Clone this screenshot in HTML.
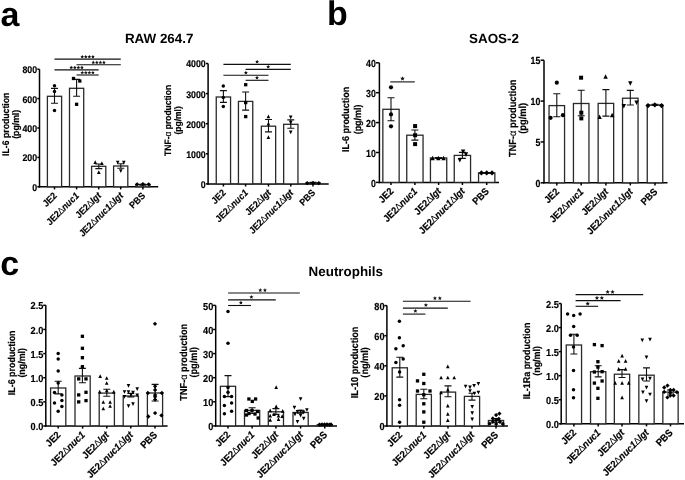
<!DOCTYPE html>
<html><head><meta charset="utf-8"><title>Figure</title>
<style>
html,body{margin:0;padding:0;background:#fff;overflow:hidden}
svg{display:block;will-change:transform}
text{text-rendering:geometricPrecision;font-family:"Liberation Sans",sans-serif;font-weight:bold;fill:#000;stroke:#000;stroke-width:0.18px}
.big,.ttl{stroke:none}
.ax{stroke:#000;stroke-width:1.5;fill:none}
.bar{stroke:#2a2a2a;stroke-width:1.3;fill:#fff}
.err{stroke:#111;stroke-width:1.1;fill:none}
.sig{stroke:#111;stroke-width:1.1}
.pt{fill:#000}
.tl{font-size:8.8px;text-anchor:end}
.yl{font-size:8.5px;text-anchor:middle}
.cat{font-size:8.8px;text-anchor:end}
.star{fill:#111}
.it{font-style:italic}
.dl{font-weight:normal;stroke:none}
.al{font-weight:normal;stroke-width:0.15px}
.big{font-size:34px}
.ttl{font-size:13.4px;text-anchor:middle}
</style></head><body>
<svg width="685" height="480" viewBox="0 0 685 480">
<text x="0.5" y="25.6" class="big">a</text>
<text x="327" y="25.2" class="big">b</text>
<text x="0.2" y="274.8" class="big">c</text>
<text x="159.2" y="42.7" class="ttl">RAW 264.7</text>
<text x="494" y="42.7" class="ttl">SAOS-2</text>
<text x="345.8" y="275.9" class="ttl">Neutrophils</text>
<line x1="39.5" y1="69.2" x2="39.5" y2="187.55" class="ax"/>
<line x1="37.3" y1="186.8" x2="39.5" y2="186.8" class="ax"/>
<text class="tl" style="font-size:9.68px" transform="translate(37.1 190.77) scale(0.9091 1)">0</text>
<line x1="37.3" y1="157.4" x2="39.5" y2="157.4" class="ax"/>
<text class="tl" style="font-size:9.68px" transform="translate(37.1 161.37) scale(0.9091 1)">200</text>
<line x1="37.3" y1="128" x2="39.5" y2="128" class="ax"/>
<text class="tl" style="font-size:9.68px" transform="translate(37.1 131.97) scale(0.9091 1)">400</text>
<line x1="37.3" y1="98.6" x2="39.5" y2="98.6" class="ax"/>
<text class="tl" style="font-size:9.68px" transform="translate(37.1 102.57) scale(0.9091 1)">600</text>
<line x1="37.3" y1="69.2" x2="39.5" y2="69.2" class="ax"/>
<text class="tl" style="font-size:9.68px" transform="translate(37.1 73.17) scale(0.9091 1)">800</text>
<line x1="38.75" y1="186.8" x2="158.2" y2="186.8" class="ax"/>
<rect x="47.4" y="96.3" width="14.2" height="90.5" class="bar"/>
<line x1="54.5" y1="186.8" x2="54.5" y2="189.4" class="ax"/>
<rect x="69.5" y="88.3" width="14.2" height="98.5" class="bar"/>
<line x1="76.6" y1="186.8" x2="76.6" y2="189.4" class="ax"/>
<rect x="91.6" y="166.3" width="14.2" height="20.5" class="bar"/>
<line x1="98.7" y1="186.8" x2="98.7" y2="189.4" class="ax"/>
<rect x="113.6" y="166" width="14.2" height="20.8" class="bar"/>
<line x1="120.7" y1="186.8" x2="120.7" y2="189.4" class="ax"/>
<rect x="135.8" y="184.6" width="14.2" height="2.2" class="bar"/>
<line x1="142.9" y1="186.8" x2="142.9" y2="189.4" class="ax"/>
<path d="M54.5 88.4V103.3M51 88.4H58M51 103.3H58" class="err"/>
<path d="M76.6 79.4V96.3M73.1 79.4H80.1M73.1 96.3H80.1" class="err"/>
<path d="M98.8 164V168.6M95.3 164H102.3M95.3 168.6H102.3" class="err"/>
<path d="M120.8 163.7V168.3M117.3 163.7H124.3M117.3 168.3H124.3" class="err"/>
<path d="M142.9 184.2V185.2M139.4 184.2H146.4M139.4 185.2H146.4" class="err"/>
<g class="pt"><circle cx="54.5" cy="85.8" r="1.73"/><circle cx="54.5" cy="91.5" r="1.73"/><circle cx="54.5" cy="110.5" r="1.73"/><rect x="71.85" y="76.85" width="3.3" height="3.3"/><rect x="78.15" y="79.35" width="3.3" height="3.3"/><rect x="74.95" y="102.65" width="3.3" height="3.3"/><path d="M95.2 160.25L97.02 163.96L93.39 163.96Z"/><path d="M101.9 161.35L103.72 165.06L100.09 165.06Z"/><path d="M98.8 170.25L100.61 173.96L96.98 173.96Z"/><path d="M117.7 164.35L119.52 160.64L115.89 160.64Z"/><path d="M123.8 164.55L125.61 160.84L121.98 160.84Z"/><path d="M120.8 172.95L122.61 169.24L118.98 169.24Z"/><path d="M137.1 182.16L139.25 184.3L137.1 186.45L134.95 184.3Z"/><path d="M142.9 181.95L145.05 184.1L142.9 186.25L140.75 184.1Z"/><path d="M148.7 182.16L150.84 184.3L148.7 186.45L146.55 184.3Z"/></g>
<line x1="54.5" y1="59.1" x2="120.8" y2="59.1" class="sig"/>
<path class="star" d="M82.27 54.85L82.81 56.06L84.13 56.2L83.15 57.08L83.42 58.38L82.27 57.72L81.13 58.38L81.4 57.08L80.42 56.2L81.74 56.06Z"/>
<path class="star" d="M85.82 54.85L86.36 56.06L87.68 56.2L86.7 57.08L86.97 58.38L85.82 57.72L84.68 58.38L84.95 57.08L83.97 56.2L85.29 56.06Z"/>
<path class="star" d="M89.38 54.85L89.91 56.06L91.23 56.2L90.25 57.08L90.52 58.38L89.38 57.72L88.23 58.38L88.5 57.08L87.52 56.2L88.84 56.06Z"/>
<path class="star" d="M92.92 54.85L93.46 56.06L94.78 56.2L93.8 57.08L94.07 58.38L92.92 57.72L91.78 58.38L92.05 57.08L91.07 56.2L92.39 56.06Z"/>
<line x1="76.5" y1="64.8" x2="120.8" y2="64.8" class="sig"/>
<path class="star" d="M93.27 60.55L93.81 61.76L95.13 61.9L94.15 62.78L94.42 64.08L93.27 63.42L92.13 64.08L92.4 62.78L91.42 61.9L92.74 61.76Z"/>
<path class="star" d="M96.82 60.55L97.36 61.76L98.68 61.9L97.7 62.78L97.97 64.08L96.82 63.42L95.68 64.08L95.95 62.78L94.97 61.9L96.29 61.76Z"/>
<path class="star" d="M100.38 60.55L100.91 61.76L102.23 61.9L101.25 62.78L101.52 64.08L100.38 63.42L99.23 64.08L99.5 62.78L98.52 61.9L99.84 61.76Z"/>
<path class="star" d="M103.92 60.55L104.46 61.76L105.78 61.9L104.8 62.78L105.07 64.08L103.92 63.42L102.78 64.08L103.05 62.78L102.07 61.9L103.39 61.76Z"/>
<line x1="54.5" y1="69.9" x2="98.7" y2="69.9" class="sig"/>
<path class="star" d="M71.27 65.65L71.81 66.86L73.13 67L72.15 67.88L72.42 69.18L71.27 68.52L70.13 69.18L70.4 67.88L69.42 67L70.74 66.86Z"/>
<path class="star" d="M74.82 65.65L75.36 66.86L76.68 67L75.7 67.88L75.97 69.18L74.82 68.52L73.68 69.18L73.95 67.88L72.97 67L74.29 66.86Z"/>
<path class="star" d="M78.38 65.65L78.91 66.86L80.23 67L79.25 67.88L79.52 69.18L78.38 68.52L77.23 69.18L77.5 67.88L76.52 67L77.84 66.86Z"/>
<path class="star" d="M81.92 65.65L82.46 66.86L83.78 67L82.8 67.88L83.07 69.18L81.92 68.52L80.78 69.18L81.05 67.88L80.07 67L81.39 66.86Z"/>
<line x1="76.5" y1="75" x2="98.7" y2="75" class="sig"/>
<path class="star" d="M82.27 70.75L82.81 71.96L84.13 72.1L83.15 72.98L83.42 74.28L82.27 73.62L81.13 74.28L81.4 72.98L80.42 72.1L81.74 71.96Z"/>
<path class="star" d="M85.82 70.75L86.36 71.96L87.68 72.1L86.7 72.98L86.97 74.28L85.82 73.62L84.68 74.28L84.95 72.98L83.97 72.1L85.29 71.96Z"/>
<path class="star" d="M89.38 70.75L89.91 71.96L91.23 72.1L90.25 72.98L90.52 74.28L89.38 73.62L88.23 74.28L88.5 72.98L87.52 72.1L88.84 71.96Z"/>
<path class="star" d="M92.92 70.75L93.46 71.96L94.78 72.1L93.8 72.98L94.07 74.28L92.92 73.62L91.78 74.28L92.05 72.98L91.07 72.1L92.39 71.96Z"/>
<text class="cat" style="font-size:9.5px" transform="translate(57.5 196.3) rotate(-45) scale(0.9259 1)">JE2</text>
<text class="cat" style="font-size:9.5px" transform="translate(79.6 196.3) rotate(-45) scale(0.9259 1)">JE2<tspan class="dl">∆</tspan><tspan class="it">nuc1</tspan></text>
<text class="cat" style="font-size:9.5px" transform="translate(101.7 196.3) rotate(-45) scale(0.9259 1)">JE2<tspan class="dl">∆</tspan><tspan class="it">lgt</tspan></text>
<text class="cat" style="font-size:9.5px" transform="translate(123.7 196.3) rotate(-45) scale(0.9259 1)">JE2<tspan class="dl">∆</tspan><tspan class="it">nuc1</tspan><tspan class="dl">∆</tspan><tspan class="it">lgt</tspan></text>
<text class="cat" style="font-size:9.5px" transform="translate(145.9 196.3) rotate(-45) scale(0.9259 1)">PBS</text>
<text class="yl" style="font-size:9.57px" transform="translate(9.4 124.3) rotate(-90) scale(0.9091 1)">IL-6 production</text>
<text class="yl" style="font-size:9.57px" transform="translate(19.2 124.3) rotate(-90) scale(0.9091 1)">(pg/ml)</text>
<line x1="208.1" y1="63.5" x2="208.1" y2="184.65" class="ax"/>
<line x1="205.9" y1="183.9" x2="208.1" y2="183.9" class="ax"/>
<text class="tl" style="font-size:9.68px" transform="translate(205.7 187.87) scale(0.9091 1)">0</text>
<line x1="205.9" y1="153.8" x2="208.1" y2="153.8" class="ax"/>
<text class="tl" style="font-size:9.68px" transform="translate(205.7 157.77) scale(0.9091 1)">1000</text>
<line x1="205.9" y1="123.7" x2="208.1" y2="123.7" class="ax"/>
<text class="tl" style="font-size:9.68px" transform="translate(205.7 127.67) scale(0.9091 1)">2000</text>
<line x1="205.9" y1="93.6" x2="208.1" y2="93.6" class="ax"/>
<text class="tl" style="font-size:9.68px" transform="translate(205.7 97.57) scale(0.9091 1)">3000</text>
<line x1="205.9" y1="63.5" x2="208.1" y2="63.5" class="ax"/>
<text class="tl" style="font-size:9.68px" transform="translate(205.7 67.47) scale(0.9091 1)">4000</text>
<line x1="207.35" y1="183.9" x2="328.7" y2="183.9" class="ax"/>
<rect x="216.25" y="97" width="14.3" height="86.9" class="bar"/>
<line x1="223.4" y1="183.9" x2="223.4" y2="186.5" class="ax"/>
<rect x="238.45" y="101.4" width="14.3" height="82.5" class="bar"/>
<line x1="245.6" y1="183.9" x2="245.6" y2="186.5" class="ax"/>
<rect x="261.35" y="126.2" width="14.3" height="57.7" class="bar"/>
<line x1="268.5" y1="183.9" x2="268.5" y2="186.5" class="ax"/>
<rect x="283.65" y="124.3" width="14.3" height="59.6" class="bar"/>
<line x1="290.8" y1="183.9" x2="290.8" y2="186.5" class="ax"/>
<rect x="305.85" y="183" width="14.3" height="0.9" class="bar"/>
<line x1="313" y1="183.9" x2="313" y2="186.5" class="ax"/>
<path d="M223.4 90.6V102.4M219.9 90.6H226.9M219.9 102.4H226.9" class="err"/>
<path d="M245.6 92V110.1M242.1 92H249.1M242.1 110.1H249.1" class="err"/>
<path d="M268.5 119.5V131.9M265 119.5H272M265 131.9H272" class="err"/>
<path d="M290.8 119.9V128.2M287.3 119.9H294.3M287.3 128.2H294.3" class="err"/>
<path d="M313 182.2V183M309.5 182.2H316.5M309.5 183H316.5" class="err"/>
<g class="pt"><circle cx="223.3" cy="86" r="1.73"/><circle cx="223.3" cy="97.4" r="1.73"/><circle cx="223.3" cy="106.4" r="1.73"/><rect x="244.05" y="83.05" width="3.3" height="3.3"/><rect x="244.05" y="100.95" width="3.3" height="3.3"/><rect x="244.05" y="114.95" width="3.3" height="3.3"/><path d="M268.4 114.45L270.21 118.16L266.58 118.16Z"/><path d="M268.4 121.75L270.21 125.46L266.58 125.46Z"/><path d="M268.4 135.25L270.21 138.96L266.58 138.96Z"/><path d="M290.7 119.15L292.51 115.44L288.88 115.44Z"/><path d="M290.7 124.55L292.51 120.84L288.88 120.84Z"/><path d="M290.7 134.15L292.51 130.44L288.88 130.44Z"/><path d="M307.2 180.95L309.34 183.1L307.2 185.25L305.06 183.1Z"/><path d="M313 180.85L315.14 183L313 185.15L310.86 183Z"/><path d="M318.8 180.95L320.94 183.1L318.8 185.25L316.66 183.1Z"/></g>
<line x1="223.4" y1="64.4" x2="290.8" y2="64.4" class="sig"/>
<path class="star" d="M257.1 59.7L257.68 61L259.1 61.15L258.04 62.1L258.33 63.5L257.1 62.79L255.87 63.5L256.16 62.1L255.1 61.15L256.52 61Z"/>
<line x1="245.6" y1="69.4" x2="290.8" y2="69.4" class="sig"/>
<path class="star" d="M268.2 64.7L268.78 66L270.2 66.15L269.14 67.1L269.43 68.5L268.2 67.79L266.97 68.5L267.26 67.1L266.2 66.15L267.62 66Z"/>
<line x1="223.4" y1="75.3" x2="268.5" y2="75.3" class="sig"/>
<path class="star" d="M245.9 70.6L246.48 71.9L247.9 72.05L246.84 73L247.13 74.4L245.9 73.69L244.67 74.4L244.96 73L243.9 72.05L245.32 71.9Z"/>
<line x1="245.6" y1="80.3" x2="268.5" y2="80.3" class="sig"/>
<path class="star" d="M257 75.6L257.58 76.9L259 77.05L257.94 78L258.23 79.4L257 78.69L255.77 79.4L256.06 78L255 77.05L256.42 76.9Z"/>
<text class="cat" style="font-size:9.5px" transform="translate(226.4 193.4) rotate(-45) scale(0.9259 1)">JE2</text>
<text class="cat" style="font-size:9.5px" transform="translate(248.6 193.4) rotate(-45) scale(0.9259 1)">JE2<tspan class="dl">∆</tspan><tspan class="it">nuc1</tspan></text>
<text class="cat" style="font-size:9.5px" transform="translate(271.5 193.4) rotate(-45) scale(0.9259 1)">JE2<tspan class="dl">∆</tspan><tspan class="it">lgt</tspan></text>
<text class="cat" style="font-size:9.5px" transform="translate(293.8 193.4) rotate(-45) scale(0.9259 1)">JE2<tspan class="dl">∆</tspan><tspan class="it">nuc1</tspan><tspan class="dl">∆</tspan><tspan class="it">lgt</tspan></text>
<text class="cat" style="font-size:9.5px" transform="translate(316 193.4) rotate(-45) scale(0.9259 1)">PBS</text>
<text class="yl" style="font-size:9.35px" transform="translate(171.2 120.4) rotate(-90) scale(0.9091 1)">TNF-<tspan class="al">α</tspan> production</text>
<text class="yl" style="font-size:9.35px" transform="translate(181.4 120.4) rotate(-90) scale(0.9091 1)">(pg/ml)</text>
<line x1="379.4" y1="62.8" x2="379.4" y2="183.15" class="ax"/>
<line x1="376" y1="182.4" x2="379.4" y2="182.4" class="ax"/>
<text class="tl" style="font-size:10.3px" transform="translate(375.8 186.62) scale(0.8547 1)">0</text>
<line x1="376" y1="152.5" x2="379.4" y2="152.5" class="ax"/>
<text class="tl" style="font-size:10.3px" transform="translate(375.8 156.72) scale(0.8547 1)">10</text>
<line x1="376" y1="122.6" x2="379.4" y2="122.6" class="ax"/>
<text class="tl" style="font-size:10.3px" transform="translate(375.8 126.82) scale(0.8547 1)">20</text>
<line x1="376" y1="92.7" x2="379.4" y2="92.7" class="ax"/>
<text class="tl" style="font-size:10.3px" transform="translate(375.8 96.92) scale(0.8547 1)">30</text>
<line x1="376" y1="62.8" x2="379.4" y2="62.8" class="ax"/>
<text class="tl" style="font-size:10.3px" transform="translate(375.8 67.02) scale(0.8547 1)">40</text>
<line x1="378.65" y1="182.4" x2="499" y2="182.4" class="ax"/>
<rect x="382.85" y="109.3" width="16.3" height="73.1" class="bar"/>
<line x1="391" y1="182.4" x2="391" y2="185" class="ax"/>
<rect x="406.75" y="135.2" width="16.3" height="47.2" class="bar"/>
<line x1="414.9" y1="182.4" x2="414.9" y2="185" class="ax"/>
<rect x="430.45" y="158" width="16.3" height="24.4" class="bar"/>
<line x1="438.6" y1="182.4" x2="438.6" y2="185" class="ax"/>
<rect x="454.25" y="155.4" width="16.3" height="27" class="bar"/>
<line x1="462.4" y1="182.4" x2="462.4" y2="185" class="ax"/>
<rect x="478.55" y="172.9" width="16.3" height="9.5" class="bar"/>
<line x1="486.7" y1="182.4" x2="486.7" y2="185" class="ax"/>
<path d="M391 97.8V120.7M387.5 97.8H394.5M387.5 120.7H394.5" class="err"/>
<path d="M414.9 130V140.1M411.4 130H418.4M411.4 140.1H418.4" class="err"/>
<path d="M438.6 157.6V158.4M435.1 157.6H442.1M435.1 158.4H442.1" class="err"/>
<path d="M462.4 152.4V158.4M458.9 152.4H465.9M458.9 158.4H465.9" class="err"/>
<path d="M486.7 172.6V173.2M483.2 172.6H490.2M483.2 173.2H490.2" class="err"/>
<g class="pt"><circle cx="391" cy="87.3" r="2.1"/><circle cx="391" cy="114.4" r="2.1"/><circle cx="391" cy="126.3" r="2.1"/><rect x="413.1" y="124.1" width="4" height="4"/><rect x="413.1" y="133.2" width="4" height="4"/><rect x="413.1" y="142.1" width="4" height="4"/><path d="M432.6 155.8L434.8 160.29L430.4 160.29Z"/><path d="M438.3 155.8L440.5 160.29L436.1 160.29Z"/><path d="M443.6 155.8L445.8 160.29L441.4 160.29Z"/><path d="M463.1 154L465.3 149.51L460.9 149.51Z"/><path d="M466 156.8L468.2 152.31L463.8 152.31Z"/><path d="M459.8 162.6L462 158.11L457.6 158.11Z"/><path d="M481.4 170.3L484 172.9L481.4 175.5L478.8 172.9Z"/><path d="M486.7 170.3L489.3 172.9L486.7 175.5L484.1 172.9Z"/><path d="M492 170.3L494.6 172.9L492 175.5L489.4 172.9Z"/></g>
<line x1="390.3" y1="81.9" x2="414.8" y2="81.9" class="sig"/>
<path class="star" d="M402.5 76.2L403.16 77.69L404.78 77.86L403.57 78.95L403.91 80.54L402.5 79.73L401.09 80.54L401.43 78.95L400.22 77.86L401.84 77.69Z"/>
<text class="cat" style="font-size:9.94px" transform="translate(394 191.9) rotate(-45) scale(0.9259 1)">JE2</text>
<text class="cat" style="font-size:9.94px" transform="translate(417.9 191.9) rotate(-45) scale(0.9259 1)">JE2<tspan class="dl">∆</tspan><tspan class="it">nuc1</tspan></text>
<text class="cat" style="font-size:9.94px" transform="translate(441.6 191.9) rotate(-45) scale(0.9259 1)">JE2<tspan class="dl">∆</tspan><tspan class="it">lgt</tspan></text>
<text class="cat" style="font-size:9.94px" transform="translate(465.4 191.9) rotate(-45) scale(0.9259 1)">JE2<tspan class="dl">∆</tspan><tspan class="it">nuc1</tspan><tspan class="dl">∆</tspan><tspan class="it">lgt</tspan></text>
<text class="cat" style="font-size:9.94px" transform="translate(489.7 191.9) rotate(-45) scale(0.9259 1)">PBS</text>
<text class="yl" style="font-size:9.9px" transform="translate(348.6 119.4) rotate(-90) scale(0.9091 1)">IL-6 production</text>
<text class="yl" style="font-size:9.9px" transform="translate(360.5 119.4) rotate(-90) scale(0.9091 1)">(pg/ml)</text>
<line x1="544" y1="60.2" x2="544" y2="183.55" class="ax"/>
<line x1="540.6" y1="182.8" x2="544" y2="182.8" class="ax"/>
<text class="tl" style="font-size:10.3px" transform="translate(540.4 187.02) scale(0.8547 1)">0</text>
<line x1="540.6" y1="141.93" x2="544" y2="141.93" class="ax"/>
<text class="tl" style="font-size:10.3px" transform="translate(540.4 146.15) scale(0.8547 1)">5</text>
<line x1="540.6" y1="101.07" x2="544" y2="101.07" class="ax"/>
<text class="tl" style="font-size:10.3px" transform="translate(540.4 105.29) scale(0.8547 1)">10</text>
<line x1="540.6" y1="60.2" x2="544" y2="60.2" class="ax"/>
<text class="tl" style="font-size:10.3px" transform="translate(540.4 64.42) scale(0.8547 1)">15</text>
<line x1="543.25" y1="182.8" x2="667.5" y2="182.8" class="ax"/>
<rect x="549.05" y="105.6" width="15.5" height="77.2" class="bar"/>
<line x1="556.8" y1="182.8" x2="556.8" y2="185.4" class="ax"/>
<rect x="573.45" y="103.5" width="15.5" height="79.3" class="bar"/>
<line x1="581.2" y1="182.8" x2="581.2" y2="185.4" class="ax"/>
<rect x="598.15" y="103.4" width="15.5" height="79.4" class="bar"/>
<line x1="605.9" y1="182.8" x2="605.9" y2="185.4" class="ax"/>
<rect x="622.55" y="98.2" width="15.5" height="84.6" class="bar"/>
<line x1="630.3" y1="182.8" x2="630.3" y2="185.4" class="ax"/>
<rect x="647.25" y="105" width="15.5" height="77.8" class="bar"/>
<line x1="655" y1="182.8" x2="655" y2="185.4" class="ax"/>
<path d="M556.8 93.7V116.8M553.3 93.7H560.3M553.3 116.8H560.3" class="err"/>
<path d="M581.2 90.3V115.8M577.7 90.3H584.7M577.7 115.8H584.7" class="err"/>
<path d="M605.9 89.6V116.1M602.4 89.6H609.4M602.4 116.1H609.4" class="err"/>
<path d="M630.3 90.4V105M626.8 90.4H633.8M626.8 105H633.8" class="err"/>
<path d="M655 104.3V105.5M651.5 104.3H658.5M651.5 105.5H658.5" class="err"/>
<g class="pt"><circle cx="556.8" cy="82.7" r="2.1"/><circle cx="550.6" cy="117.8" r="2.1"/><circle cx="562.9" cy="115.2" r="2.1"/><rect x="579.1" y="75.7" width="4" height="4"/><rect x="579.3" y="110.7" width="4" height="4"/><rect x="579.3" y="116.4" width="4" height="4"/><path d="M605.6 74.3L607.8 78.79L603.4 78.79Z"/><path d="M599.6 114.4L601.8 118.89L597.4 118.89Z"/><path d="M612.1 112.7L614.3 117.19L609.9 117.19Z"/><path d="M630.3 85.7L632.5 81.21L628.1 81.21Z"/><path d="M623.8 108.6L626 104.11L621.6 104.11Z"/><path d="M636.6 104.9L638.8 100.41L634.4 100.41Z"/><path d="M648 103L650.6 105.6L648 108.2L645.4 105.6Z"/><path d="M654.8 102.3L657.4 104.9L654.8 107.5L652.2 104.9Z"/><path d="M661.5 103L664.1 105.6L661.5 108.2L658.9 105.6Z"/></g>
<text class="cat" style="font-size:9.94px" transform="translate(559.8 192.3) rotate(-45) scale(0.9259 1)">JE2</text>
<text class="cat" style="font-size:9.94px" transform="translate(584.2 192.3) rotate(-45) scale(0.9259 1)">JE2<tspan class="dl">∆</tspan><tspan class="it">nuc1</tspan></text>
<text class="cat" style="font-size:9.94px" transform="translate(608.9 192.3) rotate(-45) scale(0.9259 1)">JE2<tspan class="dl">∆</tspan><tspan class="it">lgt</tspan></text>
<text class="cat" style="font-size:9.94px" transform="translate(633.3 192.3) rotate(-45) scale(0.9259 1)">JE2<tspan class="dl">∆</tspan><tspan class="it">nuc1</tspan><tspan class="dl">∆</tspan><tspan class="it">lgt</tspan></text>
<text class="cat" style="font-size:9.94px" transform="translate(658 192.3) rotate(-45) scale(0.9259 1)">PBS</text>
<text class="yl" style="font-size:10.23px" transform="translate(515.9 118.3) rotate(-90) scale(0.9091 1)">TNF-<tspan class="al">α</tspan> production</text>
<text class="yl" style="font-size:10.23px" transform="translate(526.3 118.3) rotate(-90) scale(0.9091 1)">(pg/ml)</text>
<line x1="45.8" y1="305.3" x2="45.8" y2="426.75" class="ax"/>
<line x1="43.2" y1="426" x2="45.8" y2="426" class="ax"/>
<text class="tl" style="font-size:10.12px" transform="translate(43.4 430.15) scale(0.9091 1)">0.0</text>
<line x1="43.2" y1="401.86" x2="45.8" y2="401.86" class="ax"/>
<text class="tl" style="font-size:10.12px" transform="translate(43.4 406.01) scale(0.9091 1)">0.5</text>
<line x1="43.2" y1="377.72" x2="45.8" y2="377.72" class="ax"/>
<text class="tl" style="font-size:10.12px" transform="translate(43.4 381.87) scale(0.9091 1)">1.0</text>
<line x1="43.2" y1="353.58" x2="45.8" y2="353.58" class="ax"/>
<text class="tl" style="font-size:10.12px" transform="translate(43.4 357.73) scale(0.9091 1)">1.5</text>
<line x1="43.2" y1="329.44" x2="45.8" y2="329.44" class="ax"/>
<text class="tl" style="font-size:10.12px" transform="translate(43.4 333.59) scale(0.9091 1)">2.0</text>
<line x1="43.2" y1="305.3" x2="45.8" y2="305.3" class="ax"/>
<text class="tl" style="font-size:10.12px" transform="translate(43.4 309.45) scale(0.9091 1)">2.5</text>
<line x1="45.05" y1="426" x2="167.6" y2="426" class="ax"/>
<rect x="50.6" y="388" width="15.2" height="38" class="bar"/>
<line x1="58.2" y1="426" x2="58.2" y2="428.6" class="ax"/>
<rect x="75" y="376" width="15.2" height="50" class="bar"/>
<line x1="82.6" y1="426" x2="82.6" y2="428.6" class="ax"/>
<rect x="99.2" y="393.1" width="15.2" height="32.9" class="bar"/>
<line x1="106.8" y1="426" x2="106.8" y2="428.6" class="ax"/>
<rect x="123.2" y="396" width="15.2" height="30" class="bar"/>
<line x1="130.8" y1="426" x2="130.8" y2="428.6" class="ax"/>
<rect x="147.4" y="393" width="15.2" height="33" class="bar"/>
<line x1="155" y1="426" x2="155" y2="428.6" class="ax"/>
<path d="M58.2 381.3V393.9M54.7 381.3H61.7M54.7 393.9H61.7" class="err"/>
<path d="M82.4 368.4V382.7M78.9 368.4H85.9M78.9 382.7H85.9" class="err"/>
<path d="M106.8 389.3V396.3M103.3 389.3H110.3M103.3 396.3H110.3" class="err"/>
<path d="M130.8 393.4V396.9M127.3 393.4H134.3M127.3 396.9H134.3" class="err"/>
<path d="M155.1 384.4V401M151.6 384.4H158.6M151.6 401H158.6" class="err"/>
<g class="pt"><circle cx="58.2" cy="353.5" r="1.73"/><circle cx="58.2" cy="359.1" r="1.73"/><circle cx="58.2" cy="371" r="1.73"/><circle cx="58.2" cy="383" r="1.73"/><circle cx="54.5" cy="392.5" r="1.73"/><circle cx="61.9" cy="394.9" r="1.73"/><circle cx="61.9" cy="400.6" r="1.73"/><circle cx="54.5" cy="402.9" r="1.73"/><circle cx="61.9" cy="406.6" r="1.73"/><circle cx="58.2" cy="411.3" r="1.73"/><rect x="80.75" y="334.65" width="3.3" height="3.3"/><rect x="80.75" y="346.65" width="3.3" height="3.3"/><rect x="80.75" y="356.05" width="3.3" height="3.3"/><rect x="80.75" y="365.05" width="3.3" height="3.3"/><rect x="77.05" y="377.25" width="3.3" height="3.3"/><rect x="84.35" y="377.25" width="3.3" height="3.3"/><rect x="84.35" y="390.65" width="3.3" height="3.3"/><rect x="77.05" y="393.25" width="3.3" height="3.3"/><rect x="84.35" y="398.95" width="3.3" height="3.3"/><rect x="77.05" y="400.25" width="3.3" height="3.3"/><path d="M100.2 374.35L102.02 378.06L98.39 378.06Z"/><path d="M106.7 376.15L108.52 379.86L104.89 379.86Z"/><path d="M106.7 381.15L108.52 384.86L104.89 384.86Z"/><path d="M99.7 389.75L101.52 393.46L97.89 393.46Z"/><path d="M113.8 389.75L115.61 393.46L111.98 393.46Z"/><path d="M106.7 388.65L108.52 392.36L104.89 392.36Z"/><path d="M103.3 400.15L105.11 403.86L101.48 403.86Z"/><path d="M110.1 400.15L111.91 403.86L108.28 403.86Z"/><path d="M110.1 404.15L111.91 407.86L108.28 407.86Z"/><path d="M103.3 406.65L105.11 410.36L101.48 410.36Z"/><path d="M128.5 387.75L130.31 384.04L126.69 384.04Z"/><path d="M137.2 390.95L139.01 387.24L135.38 387.24Z"/><path d="M124.5 393.85L126.31 390.14L122.69 390.14Z"/><path d="M128.5 393.85L130.31 390.14L126.69 390.14Z"/><path d="M133 394.55L134.81 390.84L131.19 390.84Z"/><path d="M131 396.65L132.81 392.94L129.19 392.94Z"/><path d="M137.2 397.15L139.01 393.44L135.38 393.44Z"/><path d="M124.5 398.65L126.31 394.94L122.69 394.94Z"/><path d="M128.5 408.05L130.31 404.34L126.69 404.34Z"/><path d="M133 406.05L134.81 402.34L131.19 402.34Z"/><path d="M155 321.66L157.15 323.8L155 325.94L152.85 323.8Z"/><path d="M155.1 384.16L157.25 386.3L155.1 388.44L152.95 386.3Z"/><path d="M155.1 387.75L157.25 389.9L155.1 392.04L152.95 389.9Z"/><path d="M147.8 390.86L149.95 393L147.8 395.14L145.66 393Z"/><path d="M161.9 390.86L164.05 393L161.9 395.14L159.75 393Z"/><path d="M155.1 392.96L157.25 395.1L155.1 397.25L152.95 395.1Z"/><path d="M155.1 394.56L157.25 396.7L155.1 398.84L152.95 396.7Z"/><path d="M155.1 397.46L157.25 399.6L155.1 401.75L152.95 399.6Z"/><path d="M155.1 410.96L157.25 413.1L155.1 415.25L152.95 413.1Z"/><path d="M148.3 414.36L150.45 416.5L148.3 418.64L146.16 416.5Z"/><path d="M161.4 413.25L163.55 415.4L161.4 417.54L159.25 415.4Z"/></g>
<text class="cat" style="font-size:10.04px" transform="translate(61.2 435.5) rotate(-45) scale(0.9259 1)">JE2</text>
<text class="cat" style="font-size:10.04px" transform="translate(85.6 435.5) rotate(-45) scale(0.9259 1)">JE2<tspan class="dl">∆</tspan><tspan class="it">nuc1</tspan></text>
<text class="cat" style="font-size:10.04px" transform="translate(109.8 435.5) rotate(-45) scale(0.9259 1)">JE2<tspan class="dl">∆</tspan><tspan class="it">lgt</tspan></text>
<text class="cat" style="font-size:10.04px" transform="translate(133.8 435.5) rotate(-45) scale(0.9259 1)">JE2<tspan class="dl">∆</tspan><tspan class="it">nuc1</tspan><tspan class="dl">∆</tspan><tspan class="it">lgt</tspan></text>
<text class="cat" style="font-size:10.04px" transform="translate(158 435.5) rotate(-45) scale(0.9259 1)">PBS</text>
<text class="yl" style="font-size:9.79px" transform="translate(15 362.8) rotate(-90) scale(0.9091 1)">IL-6 production</text>
<text class="yl" style="font-size:9.79px" transform="translate(25.4 362.8) rotate(-90) scale(0.9091 1)">(ng/ml)</text>
<line x1="215.7" y1="305.4" x2="215.7" y2="426.65" class="ax"/>
<line x1="213.1" y1="425.9" x2="215.7" y2="425.9" class="ax"/>
<text class="tl" style="font-size:10.12px" transform="translate(213.3 430.05) scale(0.9091 1)">0</text>
<line x1="213.1" y1="401.8" x2="215.7" y2="401.8" class="ax"/>
<text class="tl" style="font-size:10.12px" transform="translate(213.3 405.95) scale(0.9091 1)">10</text>
<line x1="213.1" y1="377.7" x2="215.7" y2="377.7" class="ax"/>
<text class="tl" style="font-size:10.12px" transform="translate(213.3 381.85) scale(0.9091 1)">20</text>
<line x1="213.1" y1="353.6" x2="215.7" y2="353.6" class="ax"/>
<text class="tl" style="font-size:10.12px" transform="translate(213.3 357.75) scale(0.9091 1)">30</text>
<line x1="213.1" y1="329.5" x2="215.7" y2="329.5" class="ax"/>
<text class="tl" style="font-size:10.12px" transform="translate(213.3 333.65) scale(0.9091 1)">40</text>
<line x1="213.1" y1="305.4" x2="215.7" y2="305.4" class="ax"/>
<text class="tl" style="font-size:10.12px" transform="translate(213.3 309.55) scale(0.9091 1)">50</text>
<line x1="214.95" y1="425.9" x2="337" y2="425.9" class="ax"/>
<rect x="220.4" y="386.3" width="15.2" height="39.6" class="bar"/>
<line x1="228" y1="425.9" x2="228" y2="428.5" class="ax"/>
<rect x="244.5" y="410.4" width="15.2" height="15.5" class="bar"/>
<line x1="252.1" y1="425.9" x2="252.1" y2="428.5" class="ax"/>
<rect x="268.3" y="411.8" width="15.2" height="14.1" class="bar"/>
<line x1="275.9" y1="425.9" x2="275.9" y2="428.5" class="ax"/>
<rect x="293" y="412.5" width="15.2" height="13.4" class="bar"/>
<line x1="300.6" y1="425.9" x2="300.6" y2="428.5" class="ax"/>
<rect x="317.2" y="424.8" width="15.2" height="1.1" class="bar"/>
<line x1="324.8" y1="425.9" x2="324.8" y2="428.5" class="ax"/>
<path d="M228 375.6V396.6M224.5 375.6H231.5M224.5 396.6H231.5" class="err"/>
<path d="M252.1 407.7V413.5M248.6 407.7H255.6M248.6 413.5H255.6" class="err"/>
<path d="M275.9 408.6V414.4M272.4 408.6H279.4M272.4 414.4H279.4" class="err"/>
<path d="M300.6 410.2V413.3M297.1 410.2H304.1M297.1 413.3H304.1" class="err"/>
<path d="M324.8 424.3V425.3M321.3 424.3H328.3M321.3 425.3H328.3" class="err"/>
<g class="pt"><circle cx="228" cy="311.5" r="1.73"/><circle cx="228" cy="343.3" r="1.73"/><circle cx="228" cy="387.5" r="1.73"/><circle cx="228" cy="392.3" r="1.73"/><circle cx="224.4" cy="396.6" r="1.73"/><circle cx="231.6" cy="396.6" r="1.73"/><circle cx="231.6" cy="403.1" r="1.73"/><circle cx="224.4" cy="405.4" r="1.73"/><circle cx="231.6" cy="411.3" r="1.73"/><circle cx="224.4" cy="413.8" r="1.73"/><rect x="247.25" y="397.35" width="3.3" height="3.3"/><rect x="253.95" y="397.35" width="3.3" height="3.3"/><rect x="250.65" y="399.75" width="3.3" height="3.3"/><rect x="244.85" y="408.85" width="3.3" height="3.3"/><rect x="250.35" y="408.85" width="3.3" height="3.3"/><rect x="255.85" y="409.85" width="3.3" height="3.3"/><rect x="247.35" y="411.85" width="3.3" height="3.3"/><rect x="253.35" y="412.35" width="3.3" height="3.3"/><rect x="256.55" y="416.35" width="3.3" height="3.3"/><rect x="244.85" y="413.35" width="3.3" height="3.3"/><path d="M276.2 385.35L278.01 389.06L274.38 389.06Z"/><path d="M276.2 404.45L278.01 408.16L274.38 408.16Z"/><path d="M270.2 408.55L272.01 412.26L268.38 412.26Z"/><path d="M282.7 409.05L284.51 412.76L280.88 412.76Z"/><path d="M274 412.25L275.81 415.96L272.19 415.96Z"/><path d="M270.2 413.85L272.01 417.56L268.38 417.56Z"/><path d="M278.5 413.85L280.31 417.56L276.69 417.56Z"/><path d="M282.2 414.35L284.01 418.06L280.38 418.06Z"/><path d="M278.5 417.25L280.31 420.96L276.69 420.96Z"/><path d="M270.2 417.95L272.01 421.66L268.38 421.66Z"/><path d="M300.6 400.95L302.42 397.24L298.79 397.24Z"/><path d="M294.4 409.45L296.21 405.74L292.58 405.74Z"/><path d="M306.9 411.85L308.71 408.14L305.08 408.14Z"/><path d="M300.6 413.35L302.42 409.64L298.79 409.64Z"/><path d="M297.5 413.65L299.31 409.94L295.69 409.94Z"/><path d="M300.6 417.55L302.42 413.84L298.79 413.84Z"/><path d="M303.7 420.45L305.51 416.74L301.88 416.74Z"/><path d="M297.5 423.65L299.31 419.94L295.69 419.94Z"/><path d="M303.5 414.15L305.31 410.44L301.69 410.44Z"/><path d="M295 416.15L296.81 412.44L293.19 412.44Z"/><path d="M319.5 422.46L321.64 424.6L319.5 426.75L317.36 424.6Z"/><path d="M322 422.25L324.14 424.4L322 426.54L319.86 424.4Z"/><path d="M324.5 422.36L326.64 424.5L324.5 426.64L322.36 424.5Z"/><path d="M327 422.16L329.14 424.3L327 426.44L324.86 424.3Z"/><path d="M329.5 422.46L331.64 424.6L329.5 426.75L327.36 424.6Z"/><path d="M331 422.36L333.14 424.5L331 426.64L328.86 424.5Z"/></g>
<line x1="228.1" y1="293" x2="299.8" y2="293" class="sig"/>
<path class="star" d="M260.25 288.1L260.83 289.4L262.25 289.55L261.19 290.5L261.48 291.9L260.25 291.19L259.02 291.9L259.31 290.5L258.25 289.55L259.67 289.4Z"/>
<path class="star" d="M264.95 288.1L265.53 289.4L266.95 289.55L265.89 290.5L266.18 291.9L264.95 291.19L263.72 291.9L264.01 290.5L262.95 289.55L264.37 289.4Z"/>
<line x1="228.1" y1="299.9" x2="275.8" y2="299.9" class="sig"/>
<path class="star" d="M251.4 295L251.98 296.3L253.4 296.45L252.34 297.4L252.63 298.8L251.4 298.09L250.17 298.8L250.46 297.4L249.4 296.45L250.82 296.3Z"/>
<line x1="228.1" y1="305.5" x2="251" y2="305.5" class="sig"/>
<path class="star" d="M240.9 300.6L241.48 301.9L242.9 302.05L241.84 303L242.13 304.4L240.9 303.69L239.67 304.4L239.96 303L238.9 302.05L240.32 301.9Z"/>
<text class="cat" style="font-size:10.04px" transform="translate(231 435.4) rotate(-45) scale(0.9259 1)">JE2</text>
<text class="cat" style="font-size:10.04px" transform="translate(255.1 435.4) rotate(-45) scale(0.9259 1)">JE2<tspan class="dl">∆</tspan><tspan class="it">nuc1</tspan></text>
<text class="cat" style="font-size:10.04px" transform="translate(278.9 435.4) rotate(-45) scale(0.9259 1)">JE2<tspan class="dl">∆</tspan><tspan class="it">lgt</tspan></text>
<text class="cat" style="font-size:10.04px" transform="translate(303.6 435.4) rotate(-45) scale(0.9259 1)">JE2<tspan class="dl">∆</tspan><tspan class="it">nuc1</tspan><tspan class="dl">∆</tspan><tspan class="it">lgt</tspan></text>
<text class="cat" style="font-size:10.04px" transform="translate(327.8 435.4) rotate(-45) scale(0.9259 1)">PBS</text>
<text class="yl" style="font-size:10.12px" transform="translate(186.7 362.3) rotate(-90) scale(0.9091 1)">TNF-<tspan class="al">α</tspan> production</text>
<text class="yl" style="font-size:10.12px" transform="translate(196.6 362.3) rotate(-90) scale(0.9091 1)">(pg/ml)</text>
<line x1="386.9" y1="305.6" x2="386.9" y2="426.75" class="ax"/>
<line x1="384.3" y1="426" x2="386.9" y2="426" class="ax"/>
<text class="tl" style="font-size:10.12px" transform="translate(384.5 430.15) scale(0.9091 1)">0</text>
<line x1="384.3" y1="395.9" x2="386.9" y2="395.9" class="ax"/>
<text class="tl" style="font-size:10.12px" transform="translate(384.5 400.05) scale(0.9091 1)">20</text>
<line x1="384.3" y1="365.8" x2="386.9" y2="365.8" class="ax"/>
<text class="tl" style="font-size:10.12px" transform="translate(384.5 369.95) scale(0.9091 1)">40</text>
<line x1="384.3" y1="335.7" x2="386.9" y2="335.7" class="ax"/>
<text class="tl" style="font-size:10.12px" transform="translate(384.5 339.85) scale(0.9091 1)">60</text>
<line x1="384.3" y1="305.6" x2="386.9" y2="305.6" class="ax"/>
<text class="tl" style="font-size:10.12px" transform="translate(384.5 309.75) scale(0.9091 1)">80</text>
<line x1="386.15" y1="426" x2="508" y2="426" class="ax"/>
<rect x="392.2" y="367.8" width="15.2" height="58.2" class="bar"/>
<line x1="399.8" y1="426" x2="399.8" y2="428.6" class="ax"/>
<rect x="416.2" y="394.4" width="15.2" height="31.6" class="bar"/>
<line x1="423.8" y1="426" x2="423.8" y2="428.6" class="ax"/>
<rect x="440.4" y="392.1" width="15.2" height="33.9" class="bar"/>
<line x1="448" y1="426" x2="448" y2="428.6" class="ax"/>
<rect x="464.4" y="396.4" width="15.2" height="29.6" class="bar"/>
<line x1="472" y1="426" x2="472" y2="428.6" class="ax"/>
<rect x="488.4" y="420.5" width="15.2" height="5.5" class="bar"/>
<line x1="496" y1="426" x2="496" y2="428.6" class="ax"/>
<path d="M399.8 357.3V377.1M396.3 357.3H403.3M396.3 377.1H403.3" class="err"/>
<path d="M423.8 389.3V398.7M420.3 389.3H427.3M420.3 398.7H427.3" class="err"/>
<path d="M448 385.9V396.7M444.5 385.9H451.5M444.5 396.7H451.5" class="err"/>
<path d="M472 393.2V400.1M468.5 393.2H475.5M468.5 400.1H475.5" class="err"/>
<path d="M496 418.6V422.2M492.5 418.6H499.5M492.5 422.2H499.5" class="err"/>
<g class="pt"><circle cx="399.4" cy="321.3" r="1.73"/><circle cx="399.4" cy="337.8" r="1.73"/><circle cx="403.2" cy="345.7" r="1.73"/><circle cx="395.9" cy="348.7" r="1.73"/><circle cx="403.2" cy="359.1" r="1.73"/><circle cx="395.9" cy="362.5" r="1.73"/><circle cx="399.6" cy="371.9" r="1.73"/><circle cx="399.6" cy="399.7" r="1.73"/><circle cx="399.6" cy="405.3" r="1.73"/><circle cx="399.6" cy="422.2" r="1.73"/><rect x="422.15" y="372.65" width="3.3" height="3.3"/><rect x="415.85" y="379.25" width="3.3" height="3.3"/><rect x="422.15" y="381.85" width="3.3" height="3.3"/><rect x="415.85" y="389.35" width="3.3" height="3.3"/><rect x="428.35" y="389.35" width="3.3" height="3.3"/><rect x="422.15" y="393.15" width="3.3" height="3.3"/><rect x="422.15" y="402.15" width="3.3" height="3.3"/><rect x="422.15" y="410.25" width="3.3" height="3.3"/><rect x="422.15" y="420.55" width="3.3" height="3.3"/><path d="M447.8 364.45L449.62 368.16L445.99 368.16Z"/><path d="M441.1 375.65L442.92 379.36L439.29 379.36Z"/><path d="M447.8 375.65L449.62 379.36L445.99 379.36Z"/><path d="M454.2 375.65L456.01 379.36L452.38 379.36Z"/><path d="M447.8 387.75L449.62 391.46L445.99 391.46Z"/><path d="M441.1 390.65L442.92 394.36L439.29 394.36Z"/><path d="M447.8 403.75L449.62 407.46L445.99 407.46Z"/><path d="M447.8 412.05L449.62 415.76L445.99 415.76Z"/><path d="M447.8 418.35L449.62 422.06L445.99 422.06Z"/><path d="M465.6 388.35L467.42 384.64L463.79 384.64Z"/><path d="M470 389.15L471.81 385.44L468.19 385.44Z"/><path d="M474.1 387.65L475.92 383.94L472.29 383.94Z"/><path d="M478.4 385.75L480.21 382.04L476.58 382.04Z"/><path d="M470 393.05L471.81 389.34L468.19 389.34Z"/><path d="M474.4 395.35L476.21 391.64L472.58 391.64Z"/><path d="M478.4 394.55L480.21 390.84L476.58 390.84Z"/><path d="M472.2 408.75L474.01 405.04L470.38 405.04Z"/><path d="M472.2 414.95L474.01 411.24L470.38 411.24Z"/><path d="M472.2 421.15L474.01 417.44L470.38 417.44Z"/><path d="M499.4 411.46L501.54 413.6L499.4 415.75L497.25 413.6Z"/><path d="M496.1 412.96L498.25 415.1L496.1 417.25L493.96 415.1Z"/><path d="M492.8 416.25L494.94 418.4L492.8 420.54L490.66 418.4Z"/><path d="M498.8 416.66L500.94 418.8L498.8 420.94L496.66 418.8Z"/><path d="M496.2 417.86L498.34 420L496.2 422.14L494.06 420Z"/><path d="M492.8 419.75L494.94 421.9L492.8 424.04L490.66 421.9Z"/><path d="M500 419.75L502.14 421.9L500 424.04L497.86 421.9Z"/><path d="M489.7 421.56L491.84 423.7L489.7 425.84L487.56 423.7Z"/><path d="M496.2 421.86L498.34 424L496.2 426.14L494.06 424Z"/><path d="M502.8 421.86L504.94 424L502.8 426.14L500.66 424Z"/></g>
<line x1="402.9" y1="301.2" x2="470.6" y2="301.2" class="sig"/>
<path class="star" d="M434.95 296.05L435.54 297.38L436.99 297.54L435.91 298.51L436.21 299.94L434.95 299.21L433.69 299.94L433.99 298.51L432.91 297.54L434.36 297.38Z"/>
<path class="star" d="M439.85 296.05L440.44 297.38L441.89 297.54L440.81 298.51L441.11 299.94L439.85 299.21L438.59 299.94L438.89 298.51L437.81 297.54L439.26 297.38Z"/>
<line x1="402.9" y1="308.1" x2="447.8" y2="308.1" class="sig"/>
<path class="star" d="M425.9 302.95L426.49 304.28L427.94 304.44L426.86 305.41L427.16 306.84L425.9 306.11L424.64 306.84L424.94 305.41L423.86 304.44L425.31 304.28Z"/>
<line x1="402.9" y1="314.1" x2="425.4" y2="314.1" class="sig"/>
<path class="star" d="M415.4 308.95L415.99 310.28L417.44 310.44L416.36 311.41L416.66 312.84L415.4 312.11L414.14 312.84L414.44 311.41L413.36 310.44L414.81 310.28Z"/>
<text class="cat" style="font-size:10.04px" transform="translate(402.8 435.5) rotate(-45) scale(0.9259 1)">JE2</text>
<text class="cat" style="font-size:10.04px" transform="translate(426.8 435.5) rotate(-45) scale(0.9259 1)">JE2<tspan class="dl">∆</tspan><tspan class="it">nuc1</tspan></text>
<text class="cat" style="font-size:10.04px" transform="translate(451 435.5) rotate(-45) scale(0.9259 1)">JE2<tspan class="dl">∆</tspan><tspan class="it">lgt</tspan></text>
<text class="cat" style="font-size:10.04px" transform="translate(475 435.5) rotate(-45) scale(0.9259 1)">JE2<tspan class="dl">∆</tspan><tspan class="it">nuc1</tspan><tspan class="dl">∆</tspan><tspan class="it">lgt</tspan></text>
<text class="cat" style="font-size:10.04px" transform="translate(499 435.5) rotate(-45) scale(0.9259 1)">PBS</text>
<text class="yl" style="font-size:10.07px" transform="translate(358 362.4) rotate(-90) scale(0.9091 1)">IL-10 production</text>
<text class="yl" style="font-size:10.07px" transform="translate(368 362.4) rotate(-90) scale(0.9091 1)">(ng/ml)</text>
<line x1="561.2" y1="303.5" x2="561.2" y2="424.55" class="ax"/>
<line x1="558.6" y1="423.8" x2="561.2" y2="423.8" class="ax"/>
<text class="tl" style="font-size:10.12px" transform="translate(558.8 427.95) scale(0.9091 1)">0.0</text>
<line x1="558.6" y1="399.74" x2="561.2" y2="399.74" class="ax"/>
<text class="tl" style="font-size:10.12px" transform="translate(558.8 403.89) scale(0.9091 1)">0.5</text>
<line x1="558.6" y1="375.68" x2="561.2" y2="375.68" class="ax"/>
<text class="tl" style="font-size:10.12px" transform="translate(558.8 379.83) scale(0.9091 1)">1.0</text>
<line x1="558.6" y1="351.62" x2="561.2" y2="351.62" class="ax"/>
<text class="tl" style="font-size:10.12px" transform="translate(558.8 355.77) scale(0.9091 1)">1.5</text>
<line x1="558.6" y1="327.56" x2="561.2" y2="327.56" class="ax"/>
<text class="tl" style="font-size:10.12px" transform="translate(558.8 331.71) scale(0.9091 1)">2.0</text>
<line x1="558.6" y1="303.5" x2="561.2" y2="303.5" class="ax"/>
<text class="tl" style="font-size:10.12px" transform="translate(558.8 307.65) scale(0.9091 1)">2.5</text>
<line x1="560.45" y1="423.8" x2="684" y2="423.8" class="ax"/>
<rect x="566.25" y="345" width="15.3" height="78.8" class="bar"/>
<line x1="573.9" y1="423.8" x2="573.9" y2="426.4" class="ax"/>
<rect x="590.55" y="371.7" width="15.3" height="52.1" class="bar"/>
<line x1="598.2" y1="423.8" x2="598.2" y2="426.4" class="ax"/>
<rect x="614.35" y="374.2" width="15.3" height="49.6" class="bar"/>
<line x1="622" y1="423.8" x2="622" y2="426.4" class="ax"/>
<rect x="638.85" y="375.2" width="15.3" height="48.6" class="bar"/>
<line x1="646.5" y1="423.8" x2="646.5" y2="426.4" class="ax"/>
<rect x="662.85" y="392.1" width="15.3" height="31.7" class="bar"/>
<line x1="670.5" y1="423.8" x2="670.5" y2="426.4" class="ax"/>
<path d="M573.9 334.2V354M570.4 334.2H577.4M570.4 354H577.4" class="err"/>
<path d="M598.2 365.8V376.9M594.7 365.8H601.7M594.7 376.9H601.7" class="err"/>
<path d="M622 369.6V377.5M618.5 369.6H625.5M618.5 377.5H625.5" class="err"/>
<path d="M646.5 367.9V381M643 367.9H650M643 381H650" class="err"/>
<path d="M670.5 390V394M667 390H674M667 394H674" class="err"/>
<g class="pt"><circle cx="567.6" cy="313.9" r="1.73"/><circle cx="573.7" cy="315.5" r="1.73"/><circle cx="580.1" cy="313.9" r="1.73"/><circle cx="573.7" cy="326.4" r="1.73"/><circle cx="570.5" cy="335.2" r="1.73"/><circle cx="577.2" cy="335.2" r="1.73"/><circle cx="573.5" cy="347.1" r="1.73"/><circle cx="573.5" cy="370.6" r="1.73"/><circle cx="573.5" cy="389.8" r="1.73"/><circle cx="573.5" cy="397.7" r="1.73"/><rect x="592.75" y="342.95" width="3.3" height="3.3"/><rect x="600.45" y="343.95" width="3.3" height="3.3"/><rect x="596.25" y="360.05" width="3.3" height="3.3"/><rect x="596.25" y="365.45" width="3.3" height="3.3"/><rect x="600.45" y="370.05" width="3.3" height="3.3"/><rect x="592.75" y="381.45" width="3.3" height="3.3"/><rect x="600.45" y="379.35" width="3.3" height="3.3"/><rect x="596.25" y="386.65" width="3.3" height="3.3"/><rect x="596.25" y="396.65" width="3.3" height="3.3"/><rect x="592.75" y="370.35" width="3.3" height="3.3"/><path d="M622.1 353.85L623.92 357.56L620.28 357.56Z"/><path d="M618.7 359.05L620.52 362.76L616.88 362.76Z"/><path d="M625.6 359.05L627.42 362.76L623.78 362.76Z"/><path d="M618.7 367.05L620.52 370.76L616.88 370.76Z"/><path d="M625.6 367.05L627.42 370.76L623.78 370.76Z"/><path d="M615.2 380.95L617.02 384.66L613.38 384.66Z"/><path d="M622.1 380.95L623.92 384.66L620.28 384.66Z"/><path d="M628.7 380.95L630.52 384.66L626.88 384.66Z"/><path d="M622.1 395.55L623.92 399.26L620.28 399.26Z"/><path d="M642.3 342.15L644.12 338.44L640.48 338.44Z"/><path d="M650 341.55L651.82 337.84L648.18 337.84Z"/><path d="M646.5 359.25L648.32 355.54L644.68 355.54Z"/><path d="M650 380.45L651.82 376.74L648.18 376.74Z"/><path d="M646.5 389.45L648.32 385.74L644.68 385.74Z"/><path d="M642.9 394.25L644.72 390.54L641.08 390.54Z"/><path d="M650 396.35L651.82 392.64L648.18 392.64Z"/><path d="M646.5 402.95L648.32 399.24L644.68 399.24Z"/><path d="M642.5 381.15L644.32 377.44L640.68 377.44Z"/><path d="M664.2 385.36L666.35 387.5L664.2 389.64L662.06 387.5Z"/><path d="M667.5 383.46L669.64 385.6L667.5 387.75L665.36 385.6Z"/><path d="M664.2 389.75L666.35 391.9L664.2 394.04L662.06 391.9Z"/><path d="M670.3 387.86L672.44 390L670.3 392.14L668.15 390Z"/><path d="M673.6 387.75L675.75 389.9L673.6 392.04L671.46 389.9Z"/><path d="M676.9 390.06L679.04 392.2L676.9 394.34L674.75 392.2Z"/><path d="M670.3 393.46L672.44 395.6L670.3 397.75L668.15 395.6Z"/><path d="M673.6 393.46L675.75 395.6L673.6 397.75L671.46 395.6Z"/><path d="M667.4 395.25L669.54 397.4L667.4 399.54L665.25 397.4Z"/><path d="M670.3 390.36L672.44 392.5L670.3 394.64L668.15 392.5Z"/></g>
<line x1="575.6" y1="294.6" x2="643.2" y2="294.6" class="sig"/>
<path class="star" d="M607.65 289.7L608.29 291.13L609.84 291.29L608.68 292.33L609 293.86L607.65 293.08L606.3 293.86L606.62 292.33L605.46 291.29L607.01 291.13Z"/>
<path class="star" d="M612.55 289.7L613.19 291.13L614.74 291.29L613.58 292.33L613.9 293.86L612.55 293.08L611.2 293.86L611.52 292.33L610.36 291.29L611.91 291.13Z"/>
<line x1="575.6" y1="300.6" x2="620.6" y2="300.6" class="sig"/>
<path class="star" d="M596.95 295.7L597.59 297.13L599.14 297.29L597.98 298.33L598.3 299.86L596.95 299.08L595.6 299.86L595.92 298.33L594.76 297.29L596.31 297.13Z"/>
<path class="star" d="M601.85 295.7L602.49 297.13L604.04 297.29L602.88 298.33L603.2 299.86L601.85 299.08L600.5 299.86L600.82 298.33L599.66 297.29L601.21 297.13Z"/>
<line x1="575.6" y1="306.3" x2="598.1" y2="306.3" class="sig"/>
<path class="star" d="M587.7 301.4L588.34 302.83L589.89 302.99L588.73 304.03L589.05 305.56L587.7 304.78L586.35 305.56L586.67 304.03L585.51 302.99L587.06 302.83Z"/>
<text class="cat" style="font-size:10.04px" transform="translate(576.9 433.3) rotate(-45) scale(0.9259 1)">JE2</text>
<text class="cat" style="font-size:10.04px" transform="translate(601.2 433.3) rotate(-45) scale(0.9259 1)">JE2<tspan class="dl">∆</tspan><tspan class="it">nuc1</tspan></text>
<text class="cat" style="font-size:10.04px" transform="translate(625 433.3) rotate(-45) scale(0.9259 1)">JE2<tspan class="dl">∆</tspan><tspan class="it">lgt</tspan></text>
<text class="cat" style="font-size:10.04px" transform="translate(649.5 433.3) rotate(-45) scale(0.9259 1)">JE2<tspan class="dl">∆</tspan><tspan class="it">nuc1</tspan><tspan class="dl">∆</tspan><tspan class="it">lgt</tspan></text>
<text class="cat" style="font-size:10.04px" transform="translate(673.5 433.3) rotate(-45) scale(0.9259 1)">PBS</text>
<text class="yl" style="font-size:9.85px" transform="translate(529.5 360.9) rotate(-90) scale(0.9091 1)">IL-1Ra production</text>
<text class="yl" style="font-size:9.85px" transform="translate(540 360.9) rotate(-90) scale(0.9091 1)">(ng/ml)</text>
</svg>
</body></html>
